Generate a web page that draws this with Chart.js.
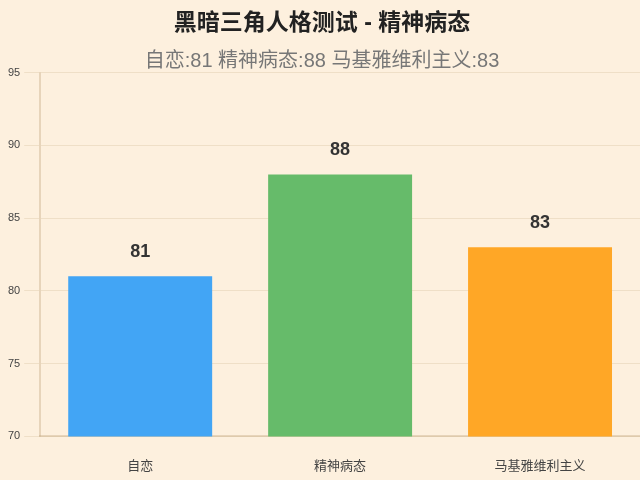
<!DOCTYPE html>
<html>
<head>
<meta charset="utf-8">
<script src="https://cdn.jsdelivr.net/npm/chart.js@4/dist/chart.umd.min.js"></script>
<style>
  html, body { margin: 0; padding: 0; background: #fdf0de; }
  #wrap { width: 640px; height: 480px; }
</style>
</head>
<body>
<div id="wrap"><canvas id="chart"></canvas></div>
<script>
  // ── Data ─────────────────────────────
  var categories = ["自恋", "精神病态", "马基雅维利主义"];
  var scores = [81, 88, 83];
  var barColors = ["#42a5f5", "#66bb6a", "#ffa726"];
  var yTicks = [70, 75, 80, 85, 90, 95];

  var FONT = "'Liberation Sans', 'Noto Sans CJK SC', sans-serif";

  // labels drawn above each bar
  var valueLabels = {
    id: "valueLabels",
    afterDatasetsDraw: function (chart) {
      var ctx = chart.ctx;
      var meta = chart.getDatasetMeta(0);
      ctx.save();
      ctx.font = "bold 18px " + FONT;
      ctx.fillStyle = "#333";
      ctx.textAlign = "center";
      ctx.textBaseline = "middle";
      meta.data.forEach(function (bar, i) {
        ctx.fillText(scores[i], bar.x, bar.y - 24);
      });
      ctx.restore();
    },
  };

  new Chart(document.getElementById("chart"), {
    type: "bar",
    data: {
      labels: categories,
      datasets: [
        {
          data: scores,
          backgroundColor: barColors,
          borderWidth: 0,
        },
      ],
    },
    options: {
      responsive: true,
      maintainAspectRatio: false,
      animation: false,
      layout: { padding: { left: 4, right: 0, top: 0, bottom: -8 } },
      plugins: {
        legend: { display: false },
        tooltip: { enabled: false },
        title: {
          display: true,
          text: "黑暗三角人格测试 - 精神病态",
          font: { family: FONT, size: 23, weight: "bold" },
          color: "#222",
          padding: { top: 10, bottom: 10 },
        },
        subtitle: {
          display: true,
          text: "自恋:81 精神病态:88 马基雅维利主义:83",
          font: { family: FONT, size: 20 },
          color: "#777",
          padding: { top: 2, bottom: -1 },
        },
      },
      scales: {
        y: {
          min: 70,
          max: 95,
          afterBuildTicks: function (axis) {
            axis.ticks = yTicks.map(function (v) { return { value: v }; });
          },
          ticks: {
            font: { family: FONT, size: 11 },
            color: "#444",
            padding: 4,
          },
          grid: { color: "rgba(200,170,130,0.25)", tickLength: 16 },
          border: { color: "rgba(190,160,120,0.35)", width: 2 },
        },
        x: {
          ticks: {
            font: { family: FONT, size: 13 },
            color: "#444",
            padding: 14,
          },
          grid: { display: false },
          border: { color: "rgba(190,160,120,0.35)", width: 2 },
        },
      },
    },
    plugins: [valueLabels],
  });
</script>
</body>
</html>
